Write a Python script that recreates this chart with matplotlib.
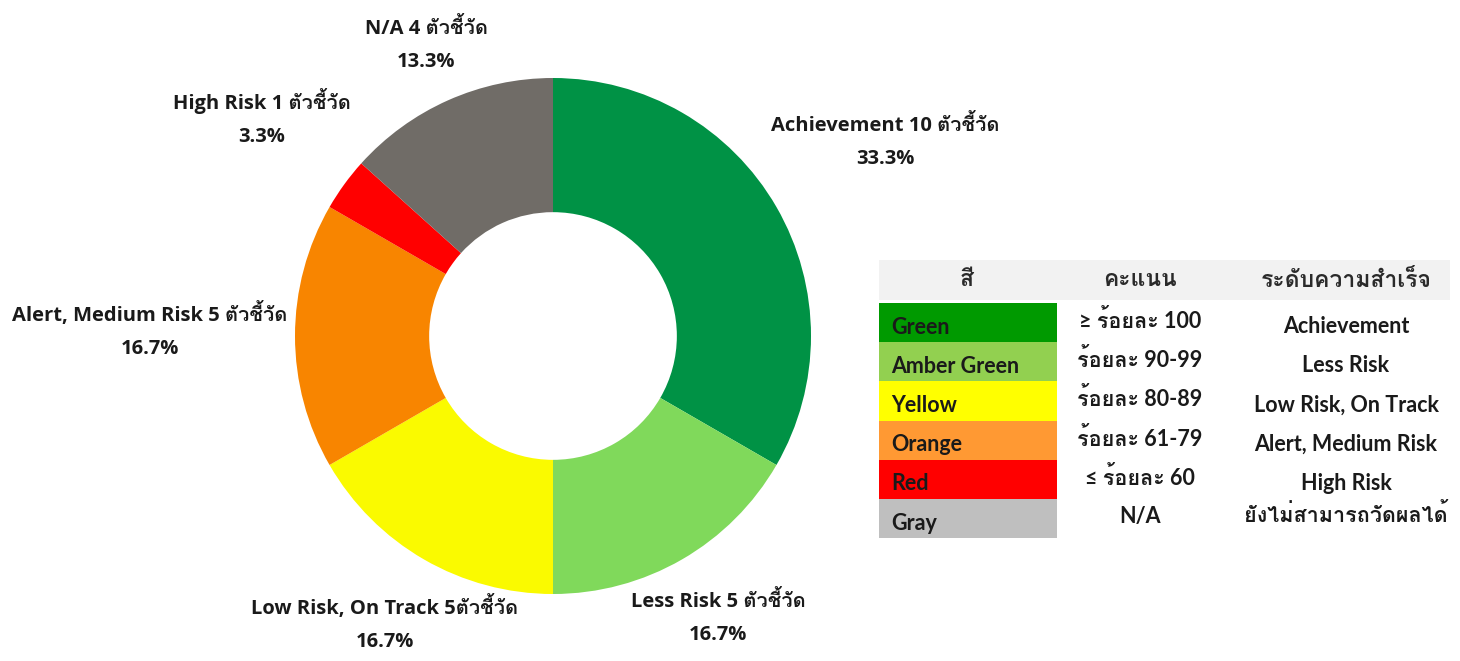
import matplotlib
matplotlib.use("Agg")
import matplotlib.pyplot as plt
from matplotlib.patches import Rectangle
from matplotlib import font_manager
from matplotlib.ft2font import FT2Font

# installed families that have Thai glyphs; ones with a bold face first
thai_bold, thai_any = [], []
for fe in font_manager.fontManager.ttflist:
    try:
        if ord("ต") not in FT2Font(fe.fname).get_charmap():
            continue
    except Exception:
        continue
    w = fe.weight if isinstance(fe.weight, int) else 700 if "bold" in str(fe.weight) else 400
    if w >= 600 and fe.name not in thai_bold:
        thai_bold.append(fe.name)
    if fe.name not in thai_any:
        thai_any.append(fe.name)
thai_fonts = thai_bold + [f for f in thai_any if f not in thai_bold]
label_fams = ["Open Sans"] + thai_fonts + ["DejaVu Sans"]
table_fams = ["Lato"] + thai_fonts + ["DejaVu Sans"]
plt.rcParams["font.family"] = table_fams

# donut data
labels = ["Achievement", "Less Risk", "Low Risk, On Track", "Alert, Medium Risk", "High Risk", "N/A"]
counts = [10, 5, 5, 5, 1, 4]
colors = ["#009245", "#80D95B", "#FAFA00", "#F88500", "#FF0000", "#706C67"]
unit = "ตัวชี้วัด"

# table data
tbl_header = ["สี", "คะแนน", "ระดับความสำเร็จ"]
tbl_colors = ["Green", "Amber Green", "Yellow", "Orange", "Red", "Gray"]
tbl_fill = ["#009A00", "#92D050", "#FFFF00", "#FF9933", "#FF0000", "#BFBFBF"]
tbl_score = ["≥ ร้อยละ 100", "ร้อยละ 90-99", "ร้อยละ 80-89", "ร้อยละ 61-79", "≤ ร้อยละ 60", "N/A"]
tbl_level = ["Achievement", "Less Risk", "Low Risk, On Track", "Alert, Medium Risk", "High Risk", "ยังไม่สามารถวัดผลได้"]

W, H = 1460, 661
fig = plt.figure(figsize=(W / 100, H / 100), dpi=100)

# pie axes: centre at (553, 336) px, radius 258 px
cx, cy, r = 553, 336, 258
ax = fig.add_axes([0, 0, 1, 1])
ax.pie(counts, colors=colors, startangle=90, counterclock=False,
       wedgeprops=dict(width=0.52, linewidth=0))
ax.set_xlim(-cx / r, (W - cx) / r)
ax.set_ylim(-(H - cy) / r, cy / r)
ax.set_aspect("equal")
ax.axis("off")

total = sum(counts)
# label centres in pixels (first line)
label_pos = [(885, 124), (718, 600), (385, 607), (150, 314), (262, 102), (426, 27)]
for lab, n, (px, py) in zip(labels, counts, label_pos):
    sep = "" if lab.startswith("Low Risk") else " "
    line1 = f"{lab} {n}{sep}{unit}"
    line2 = f"{100 * n / total:.1f}%"
    for k, t in enumerate([line1, line2]):
        fig.text(px / W, 1 - (py + 33 * k + 7) / H, t, ha="center", va="baseline",
                 fontsize=14.5, fontweight="bold", color="#1a1a1a", family=label_fams)

# legend table drawn in pixel space
tx0, tx1, ty0, ty1 = 879, 1450, 260, 538
tax = fig.add_axes([tx0 / W, 1 - ty1 / H, (tx1 - tx0) / W, (ty1 - ty0) / H])
tax.set_xlim(tx0, tx1)
tax.set_ylim(ty1, ty0)
tax.axis("off")

head_h = 40
row_h = (ty1 - ty0 - head_h - 3) / len(tbl_colors)
col1_x1 = 1057
col2_c, col3_c = 1140, 1346
tax.add_patch(Rectangle((tx0, ty0), tx1 - tx0, head_h, color="#F2F2F2", lw=0))
for x, h in zip([967, col2_c, col3_c], tbl_header):
    tax.text(x, ty0 + head_h / 2, h, ha="center", va="center", fontsize=16.5,
             fontweight="bold", color="#2a2a2a")

for i, (nm, fc, sc, lv) in enumerate(zip(tbl_colors, tbl_fill, tbl_score, tbl_level)):
    y = ty0 + head_h + 3 + i * row_h
    tax.add_patch(Rectangle((tx0, y), col1_x1 - tx0, row_h, color=fc, lw=0))
    tax.text(tx0 + 12, y + row_h * 0.62, nm, ha="left", va="center", fontsize=15.5,
             fontweight="bold", color="#1a1a1a")
    tax.text(col2_c, y + row_h * 0.45, sc, ha="center", va="center", fontsize=15.5,
             fontweight="bold", color="#1a1a1a")
    tax.text(col3_c, y + row_h * 0.6 if i < 5 else y + row_h * 0.4, lv, ha="center", va="center",
             fontsize=15.5, fontweight="bold", color="#1a1a1a")

fig.savefig("out.png", dpi=100)
